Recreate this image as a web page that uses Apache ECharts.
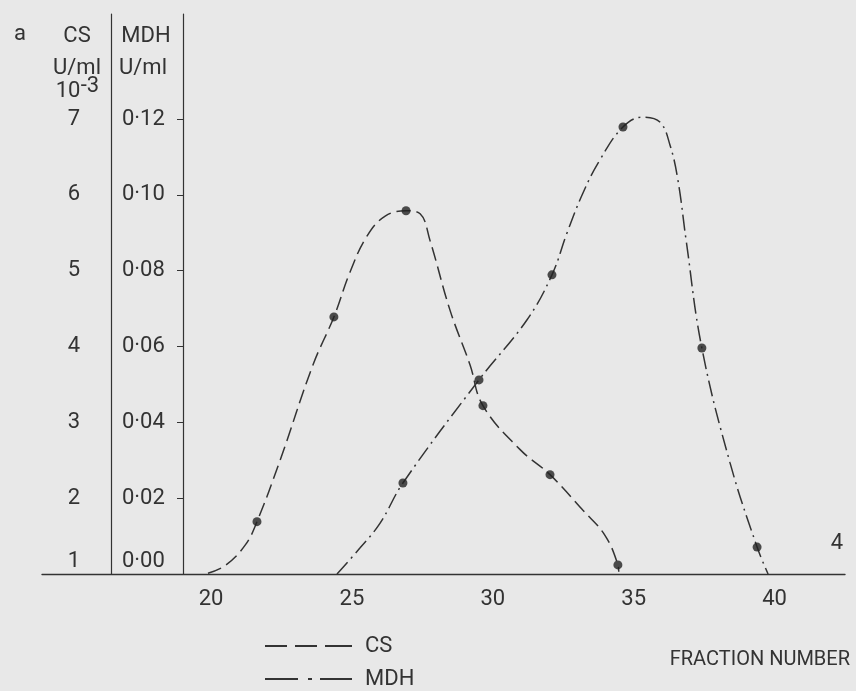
<!DOCTYPE html>
<html><head><meta charset="utf-8">
<script src="https://cdn.jsdelivr.net/npm/echarts@6/dist/echarts.min.js"></script>
<style>html,body{margin:0;padding:0;background:#e8e8e8}#c{width:856px;height:691px}</style>
</head><body><div id="c"></div>
<script>
// ---- tick labels ----
const fractionTicks = [20, 25, 30, 35, 40];
const mdhTicks = [0, 0.02, 0.04, 0.06, 0.08, 0.10, 0.12];
const csTicks = [1, 2, 3, 4, 5, 6, 7];

// ---- measured points (dots) ----
const csFraction = [21.63, 24.36, 26.92, 29.65, 32.03, 34.44];
const csActivity = [1.69, 4.39, 5.79, 3.22, 2.31, 1.12];
const mdhFraction = [26.81, 29.51, 32.10, 34.62, 37.42, 39.38];
const mdhActivity = [0.0240, 0.0512, 0.0789, 0.1179, 0.0596, 0.0071];

// ---- hand-drawn curves ----
const csCurveFraction = [19.89, 20.50, 21.21, 21.63, 22.45, 23.62, 24.36, 24.93, 25.54, 26.18, 26.92, 27.42, 27.77, 28.48, 29.19, 29.65, 30.97, 32.03, 33.20, 33.98, 34.44, 34.47];
const csCurveActivity = [1.01, 1.11, 1.38, 1.69, 2.50, 3.76, 4.39, 4.98, 5.46, 5.72, 5.79, 5.75, 5.40, 4.48, 3.76, 3.22, 2.64, 2.31, 1.84, 1.51, 1.12, 1.03];
const mdhCurveFraction = [24.47, 25.29, 26.00, 26.81, 29.51, 31.21, 32.10, 32.63, 33.20, 33.80, 34.62, 35.33, 35.93, 36.29, 36.57, 36.86, 37.42, 38.42, 39.38, 39.77];
const mdhCurveActivity = [0, 0.0069, 0.0134, 0.0240, 0.0512, 0.0670, 0.0789, 0.0899, 0.1005, 0.1092, 0.1179, 0.1205, 0.1192, 0.1131, 0.1039, 0.0881, 0.0596, 0.0293, 0.0071, 0];

const ink = '#333333';
const font = 'Roboto, "Liberation Sans", sans-serif';
const fs = 22;

const pairs = (xs, ys) => xs.map((x, i) => [x, ys[i]]);
const isTick = (arr, v) => arr.some(t => Math.abs(t - v) < 1e-9);
const txt = (x, y, text, extra) => ({ type: 'text', x, y, style: Object.assign({ text, fontSize: fs, fontFamily: font, fill: ink, align: 'center', verticalAlign: 'middle' }, extra || {}) });

const chart = echarts.init(document.getElementById('c'));
chart.setOption({
  backgroundColor: '#e8e8e8',
  animation: false,
  grid: { left: 42, right: 11, top: 14, bottom: 117 },
  xAxis: {
    type: 'value', min: 14, max: 42.5, interval: 1,
    axisLine: { onZero: false, lineStyle: { color: ink, width: 1.4 } },
    axisTick: { show: false },
    splitLine: { show: false },
    axisLabel: {
      customValues: fractionTicks, margin: 14, fontSize: fs, color: ink, fontFamily: font,
      formatter: v => isTick(fractionTicks, v) ? String(v) : ''
    }
  },
  yAxis: [
    {
      type: 'value', min: 0, max: 0.1477, position: 'left', offset: -141,
      axisLine: { show: true, lineStyle: { color: ink, width: 1.2 } },
      axisTick: { show: true, length: 6, customValues: mdhTicks, lineStyle: { color: ink } },
      splitLine: { show: false },
      axisLabel: {
        customValues: mdhTicks, align: 'left', margin: 61, fontSize: fs, color: ink, fontFamily: font,
        formatter: v => {
          if (!isTick(mdhTicks, v)) return '';
          const s = v.toFixed(2).replace('.', '\u00b7');
          return Math.abs(v) < 1e-9 ? '{low|' + s + '}' : s;
        },
        rich: { low: { padding: [0, 0, 26, 0], fontSize: fs, color: ink, fontFamily: font } }
      }
    },
    {
      type: 'value', min: 1, max: 8.385, position: 'left', offset: -69,
      axisLine: { show: true, lineStyle: { color: ink, width: 1.2 } },
      axisTick: { show: false },
      splitLine: { show: false },
      axisLabel: {
        customValues: csTicks, align: 'right', margin: 31, fontSize: fs, color: ink, fontFamily: font,
        formatter: v => {
          if (!isTick(csTicks, v)) return '';
          return Math.abs(v - 1) < 1e-9 ? '{low|' + v + '}' : String(v);
        },
        rich: { low: { padding: [0, 0, 26, 0], fontSize: fs, color: ink, fontFamily: font } }
      }
    }
  ],
  legend: {
    orient: 'vertical', left: 265, top: 635, height: 80, padding: 0,
    itemWidth: 87, itemHeight: 2, itemGap: 11,
    selectedMode: false,
    textStyle: { fontSize: fs, color: ink, fontFamily: font, padding: [0, 0, 0, 8] },
    itemStyle: { color: ink, borderWidth: 0 },
    data: [
      { name: 'CS', icon: 'path://M0,0H22V2H0Z M30,0H52V2H30Z M60,0H87V2H60Z' },
      { name: 'MDH', icon: 'path://M0,0H33V2H0Z M43,0H47V2H43Z M55,0H87V2H55Z' }
    ]
  },
  series: [
    {
      name: 'CS', type: 'line', yAxisIndex: 1, data: pairs(csCurveFraction, csCurveActivity),
      smooth: 0.4, symbol: 'none',
      lineStyle: { color: ink, width: 1.5, type: [14, 6] }, itemStyle: { color: ink }
    },
    {
      name: 'MDH', type: 'line', yAxisIndex: 0, data: pairs(mdhCurveFraction, mdhCurveActivity),
      smooth: 0.4, symbol: 'none',
      lineStyle: { color: ink, width: 1.5, type: [16, 5, 2, 5] }, itemStyle: { color: ink }
    },
    {
      name: 'CS points', type: 'scatter', yAxisIndex: 1, data: pairs(csFraction, csActivity),
      symbol: 'circle', symbolSize: 9, itemStyle: { color: '#222' }, z: 5
    },
    {
      name: 'MDH points', type: 'scatter', yAxisIndex: 0, data: pairs(mdhFraction, mdhActivity),
      symbol: 'circle', symbolSize: 9, itemStyle: { color: '#222' }, z: 5
    }
  ],
  graphic: [
    txt(20, 34, 'a'),
    txt(77, 36, 'CS'),
    txt(146, 36, 'MDH'),
    txt(77, 68, 'U/ml'),
    txt(143, 68, 'U/ml'),
    txt(68, 91, '10'),
    txt(90, 86, '-3'),
    txt(837, 543, '4'),
    txt(850, 660, 'FRACTION NUMBER', { fontSize: 20, align: 'right' })
  ]
});
</script></body></html>
